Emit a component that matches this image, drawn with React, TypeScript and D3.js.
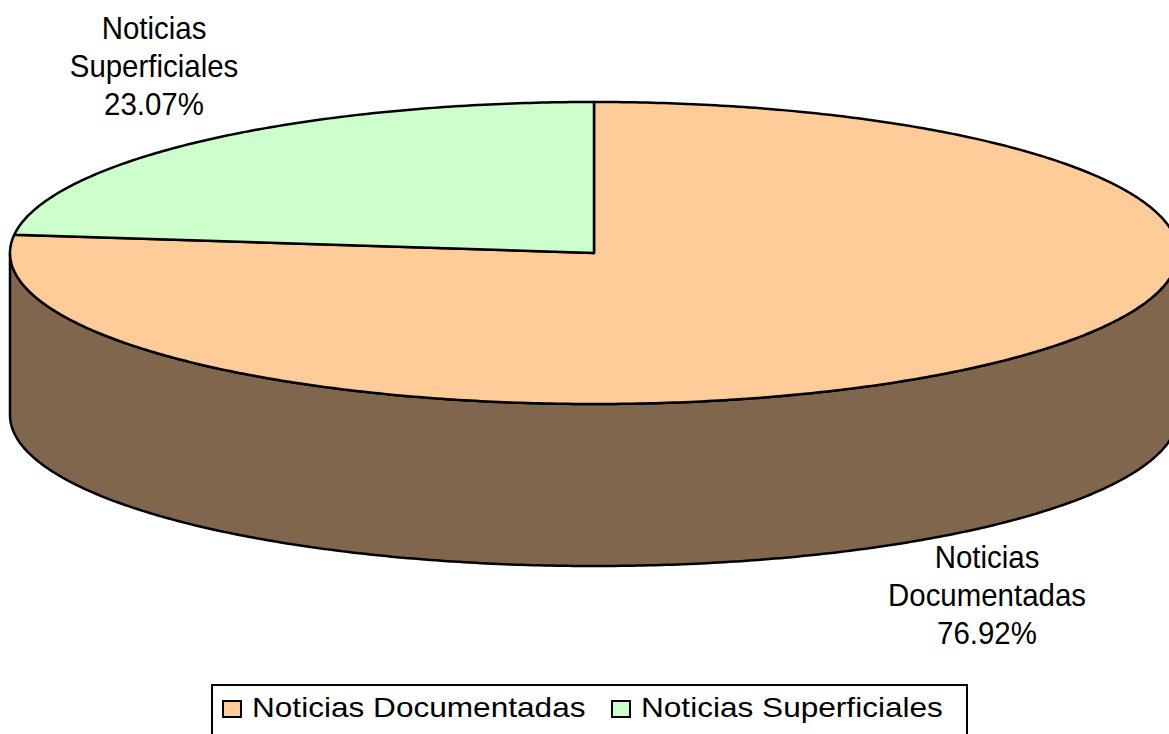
import * as d3 from 'd3'

const categories = ['Noticias Documentadas', 'Noticias Superficiales']
const labelLines = [
  ['Noticias', 'Documentadas'],
  ['Noticias', 'Superficiales'],
]
const percents = [76.92, 23.07]
const colors = ['#FFCC99', '#CCFFCC']

const W = 1169
const H = 734
const cx = 594
const cy = 253
const rx = 584
const ry = 151
const depth = 162
const font = '"Liberation Sans", Arial, sans-serif'

// where each slice's label block sits (centre x, first baseline y)
const labelPos = [
  { x: 987, y: 568 },
  { x: 154, y: 39 },
]
// legend item x positions (marker left)
const legendX = [223, 612]

const px = (a: number) => cx + rx * Math.sin(a)
const py = (a: number, dz = 0) => cy - ry * Math.cos(a) + dz

function arcPoints(a0: number, a1: number, dz = 0) {
  const n = Math.max(2, Math.ceil(Math.abs(a1 - a0) / 0.01))
  return d3.range(n + 1).map(i => {
    const a = a0 + ((a1 - a0) * i) / n
    return [px(a), py(a, dz)] as [number, number]
  })
}

export default function App() {
  const pie = d3
    .pie<number>()
    .sort(null)
    .value(d => d)
  const arcs = pie(percents)
  const line = d3.line()

  const tops = arcs.map(a => {
    const pts = [[cx, cy] as [number, number], ...arcPoints(a.startAngle, a.endAngle)]
    return line(pts) + 'Z'
  })

  // front wall: visible between PI/2 and 3PI/2
  const sides = arcs
    .map((a, i) => {
      const s = Math.max(a.startAngle, Math.PI / 2)
      const e = Math.min(a.endAngle, (3 * Math.PI) / 2)
      if (e <= s) return null
      const pts = [...arcPoints(s, e), ...arcPoints(e, s, depth)]
      return { d: line(pts) + 'Z', i }
    })
    .filter(Boolean) as { d: string; i: number }[]

  const side = (c: string) => {
    const k = d3.rgb(c)
    return d3.rgb(k.r * 0.5, k.g * 0.5, k.b * 0.5).formatHex()
  }

  return (
    <svg
      width={W}
      height={H}
      style={{ position: 'absolute', left: 0, top: 0, background: '#fff' }}
    >
      {sides.map(s => (
        <path
          key={'s' + s.i}
          d={s.d}
          fill={side(colors[s.i])}
          stroke="#000"
          strokeWidth={2.5}
          strokeLinejoin="round"
        />
      ))}
      {tops.map((d, i) => (
        <path
          key={'t' + i}
          d={d}
          fill={colors[i]}
          stroke="#000"
          strokeWidth={2.5}
          strokeLinejoin="round"
        />
      ))}
      {labelPos.map((p, i) => (
        <g key={'l' + i} transform={`translate(${p.x},${p.y}) scale(0.95,1)`}>
          <text textAnchor="middle" fontFamily={font} fontSize={31} fill="#000">
            {[...labelLines[i], d3.format('.2f')(percents[i]) + '%'].map((t, j) => (
              <tspan key={j} x={0} y={j * 38}>
                {t}
              </tspan>
            ))}
          </text>
        </g>
      ))}
      {/* legend */}
      <rect x={212} y={685} width={755} height={70} fill="#fff" stroke="#000" strokeWidth={2} />
      {categories.map((c, i) => {
        const x0 = legendX[i]
        return (
          <g key={'g' + i}>
            <rect x={x0} y={701} width={18} height={16} fill={colors[i]} stroke="#000" strokeWidth={2} />
            <text
              transform={`translate(${x0 + 29},717) scale(1.17,1)`}
              fontFamily={font}
              fontSize={27}
              fill="#000"
            >
              {c}
            </text>
          </g>
        )
      })}
    </svg>
  )
}
